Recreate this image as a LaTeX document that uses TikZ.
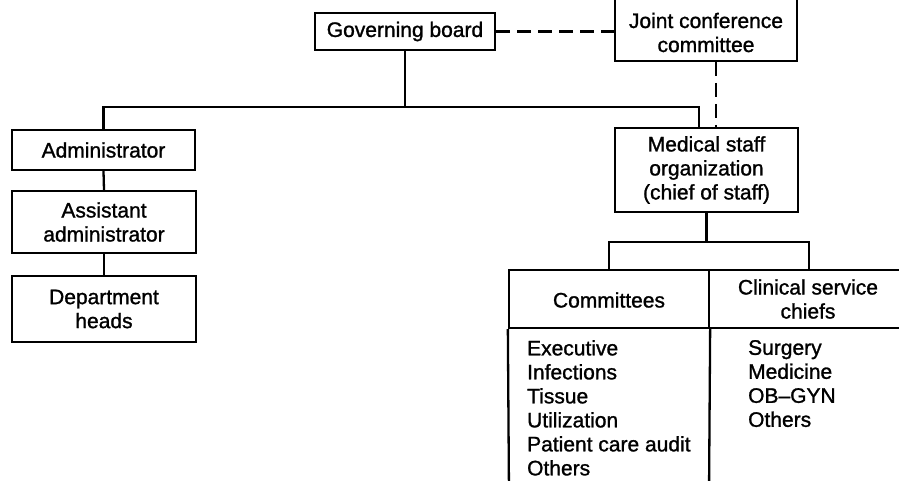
\documentclass[tikz,border=0pt]{standalone}
\usepackage{fontspec}
\setmainfont{Liberation Sans}[RawFeature={embolden=1.2}]
\begin{document}
\begin{tikzpicture}[x=1pt,y=-1pt,
  line width=2.3pt,
  txt/.style={font=\fontsize{21}{24}\selectfont, align=center, inner sep=0pt},
  box/.style={draw, txt},
  dashline/.style={dash pattern=on 14pt off 7pt},
  listtxt/.style={font=\fontsize{21}{24}\selectfont, align=left, inner sep=0pt, anchor=north west}]
\useasboundingbox (0,0) rectangle (899,481);
\clip (0,0) rectangle (899,481);
\fill[white] (0,0) rectangle (899,481);

% top level
\node[box, minimum width=180pt, minimum height=37pt] (gov) at (405,31.5) {Governing board};
\node[draw, minimum width=182pt, minimum height=80pt, anchor=south, inner sep=0pt] (joint) at (706,62) {};
\node[txt] (jointt) at (706,32.5) {Joint conference\\committee};

% left branch
\node[box, minimum width=183pt, minimum height=40pt] (admin) at (103.5,150) {Administrator};
\node[box, minimum width=184pt, minimum height=62pt] (asst) at (104,222) {Assistant\\administrator};
\node[box, minimum width=184pt, minimum height=66pt] (dept) at (104,309) {Department\\heads};

% right branch
\node[box, minimum width=183pt, minimum height=84pt] (med) at (706.5,170) {Medical staff\\organization\\(chief of staff)};

% table headers
\node[draw, minimum width=200pt, minimum height=58pt, inner sep=0pt] (comm) at (609,299) {};
\node[txt] (commt) at (609,300) {Committees};
\node[draw, minimum width=200pt, minimum height=58pt, inner sep=0pt] (clin) at (809,299) {};
\node[txt] (clint) at (808,299) {Clinical service\\chiefs};

% table columns
\coordinate (colA) at (509,495);
\coordinate (colB) at (709,495);
\draw (comm.south west) -- (colA);
\draw (comm.south east) -- (colB);

% lists
\node[listtxt] (commlist) at (526,339) {Executive\\Infections\\Tissue\\Utilization\\Patient care audit\\Others};
\node[listtxt] (clinlist) at (747,339) {Surgery\\Medicine\\OB--GYN\\Others};

% connectors
\coordinate (busy) at (0,107);
\coordinate (medL) at (699,128);
\coordinate (medR) at (716,128);
\draw (gov.south) -- (gov.south |- busy);
\draw (admin.north) -- (admin.north |- busy) -- (busy -| medL) -- (medL);
\draw (admin.south) -- (asst.north);
\draw (asst.south) -- (dept.north);
\draw[dashline] (gov.east) -- (gov.east -| joint.west);
\draw[dashline] (joint.south -| medR) -- (medR);

\coordinate (buy2) at (0,242);
\draw (med.south) -- (med.south |- buy2);
\draw (comm.north) -- (comm.north |- buy2) -- (buy2 -| clin.north) -- (clin.north);
\end{tikzpicture}
\end{document}
